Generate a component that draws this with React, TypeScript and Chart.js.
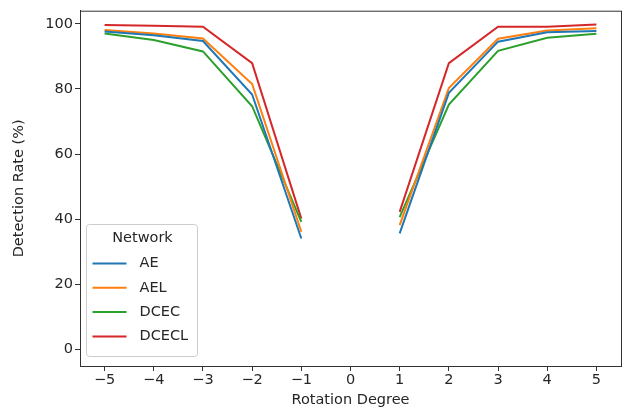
import React, { useEffect, useRef } from "react";
import { Chart, registerables } from "chart.js";

Chart.register(...registerables);

// Rotation degrees (0 has no measurement, so the lines break there)
const DEGREES = [-5, -4, -3, -2, -1, 0, 1, 2, 3, 4, 5];
const X_TICKS = [-5, -4, -3, -2, -1, 0, 1, 2, 3, 4, 5];
const Y_TICKS = [0, 20, 40, 60, 80, 100];

const NETWORKS = ["AE", "AEL", "DCEC", "DCECL"];
const AE = [97.6, 96.5, 94.7, 78.3, 34.1, null, 35.7, 78.8, 94.5, 97.4, 97.8];
const AEL = [98.1, 97.0, 95.5, 81.5, 36.2, null, 38.2, 80.3, 95.4, 97.9, 98.6];
const DCEC = [97.0, 95.0, 91.5, 74.7, 39.2, null, 40.7, 75.2, 91.7, 95.7, 96.9];
const DCECL = [99.6, 99.4, 99.1, 87.9, 40.2, null, 42.3, 87.9, 99.1, 99.1, 99.8];

const SERIES = [AE, AEL, DCEC, DCECL];
const COLORS = ["#1f77b4", "#ff7f0e", "#2ca02c", "#d62728"];

const FONT = "'DejaVu Sans', sans-serif";
const FONT_SIZE = 14.5;
const TEXT = "#262626";
const AXIS = "#333333";

const fmt = (v: number) => (v < 0 ? "\u2212" + Math.abs(v) : String(v));

// Box around the plot area plus a matplotlib-style legend in the lower left
const framePlugin = {
  id: "frameAndLegend",
  afterDraw(chart: any) {
    const { ctx, chartArea } = chart;
    const { left, top, right, bottom } = chartArea;
    ctx.save();
    ctx.strokeStyle = AXIS;
    ctx.lineWidth = 1;
    ctx.strokeRect(left + 0.5, top + 0.5, right - left, bottom - top);

    // legend
    const bx = left + 6.5;
    const by = bottom - 141.5;
    const bw = 111;
    const bh = 132;
    const r = 3;
    ctx.beginPath();
    ctx.moveTo(bx + r, by);
    ctx.lineTo(bx + bw - r, by);
    ctx.arcTo(bx + bw, by, bx + bw, by + r, r);
    ctx.lineTo(bx + bw, by + bh - r);
    ctx.arcTo(bx + bw, by + bh, bx + bw - r, by + bh, r);
    ctx.lineTo(bx + r, by + bh);
    ctx.arcTo(bx, by + bh, bx, by + bh - r, r);
    ctx.lineTo(bx, by + r);
    ctx.arcTo(bx, by, bx + r, by, r);
    ctx.closePath();
    ctx.fillStyle = "rgba(255,255,255,0.8)";
    ctx.fill();
    ctx.strokeStyle = "#cccccc";
    ctx.stroke();

    ctx.font = `${FONT_SIZE}px ${FONT}`;
    ctx.fillStyle = TEXT;
    ctx.textBaseline = "middle";
    ctx.textAlign = "center";
    ctx.fillText("Network", bx + 56, by + 14);

    ctx.textAlign = "left";
    NETWORKS.forEach((name, i) => {
      const y = by + 39 + i * 24.3;
      ctx.strokeStyle = COLORS[i];
      ctx.lineWidth = 2;
      ctx.beginPath();
      ctx.moveTo(bx + 6, y);
      ctx.lineTo(bx + 40, y);
      ctx.stroke();
      ctx.fillStyle = TEXT;
      ctx.fillText(name, bx + 53, y);
    });
    ctx.restore();
  },
};

export default function App() {
  const ref = useRef<HTMLCanvasElement>(null);

  useEffect(() => {
    document.body.style.margin = "0";
    const canvas = ref.current;
    if (!canvas) return;

    const chart = new Chart(canvas, {
      type: "line",
      data: {
        datasets: NETWORKS.map((name, i) => ({
          label: name,
          data: DEGREES.map((d, j) => ({ x: d, y: SERIES[i][j] })),
          borderColor: COLORS[i],
          backgroundColor: COLORS[i],
          borderWidth: 2,
          pointRadius: 0,
          tension: 0,
          spanGaps: false,
        })),
      },
      options: {
        animation: false,
        responsive: false,
        maintainAspectRatio: false,
        layout: { padding: { left: 0, right: 3, top: 8, bottom: 0 } },
        plugins: {
          legend: { display: false },
          tooltip: { enabled: false },
        },
        scales: {
          x: {
            type: "linear",
            min: -5.5,
            max: 5.5,
            afterBuildTicks: (s: any) => {
              s.ticks = X_TICKS.map((v) => ({ value: v }));
            },
            afterFit: (s: any) => {
              s.height = 46;
            },
            grid: {
              drawOnChartArea: false,
              drawTicks: true,
              tickLength: 5,
              color: AXIS,
            },
            border: { display: true, color: AXIS, width: 1 },
            ticks: {
              padding: 1,
              color: TEXT,
              font: { family: FONT, size: FONT_SIZE },
              maxRotation: 0,
              autoSkip: false,
              callback: (v: any) => fmt(Number(v)),
            },
            title: {
              display: true,
              text: "Rotation Degree",
              color: TEXT,
              font: { family: FONT, size: FONT_SIZE },
              padding: { top: 2, bottom: 3 },
            },
          },
          y: {
            type: "linear",
            min: -5,
            max: 104,
            afterBuildTicks: (s: any) => {
              s.ticks = Y_TICKS.map((v) => ({ value: v }));
            },
            afterFit: (s: any) => {
              s.width = 80;
            },
            grid: {
              drawOnChartArea: false,
              drawTicks: true,
              tickLength: 5,
              color: AXIS,
            },
            border: { display: true, color: AXIS, width: 1 },
            ticks: {
              padding: 2,
              color: TEXT,
              font: { family: FONT, size: FONT_SIZE },
              callback: (v: any) => fmt(Number(v)),
            },
            title: {
              display: true,
              text: "Detection Rate (%)",
              color: TEXT,
              font: { family: FONT, size: FONT_SIZE },
              padding: { top: 11, bottom: 0 },
            },
          },
        },
      },
      plugins: [framePlugin],
    });

    return () => chart.destroy();
  }, []);

  return (
    <div style={{ width: 624, height: 412, background: "#fff" }}>
      <canvas ref={ref} width={624} height={412} style={{ display: "block" }} />
    </div>
  );
}
